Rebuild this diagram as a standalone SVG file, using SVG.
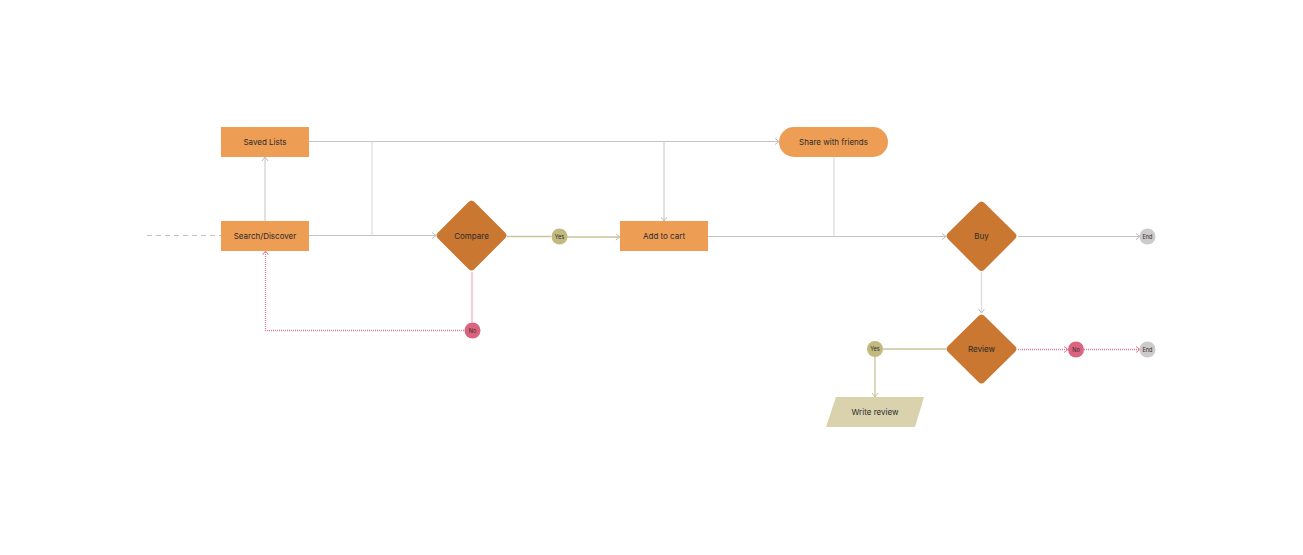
<svg xmlns="http://www.w3.org/2000/svg" width="1303" height="555" viewBox="0 0 1303 555">
<style>
.box{fill:#EE9D55}
.dia{fill:#C97731}
.lbl{font-family:Inter,"Noto Sans",sans-serif;font-size:8px;fill:#2b2b2b;text-anchor:middle;dominant-baseline:central}
.sm{font-family:Inter,"Noto Sans",sans-serif;font-size:5.5px;fill:#2b2b2b;text-anchor:middle;dominant-baseline:central}
.ln{fill:none;stroke:#C4C4C4;stroke-width:1}
.lt{fill:none;stroke:#DDDDDD;stroke-width:1.3}
.ol{fill:none;stroke:#C9C39A;stroke-width:1.3}
.pk{fill:none;stroke:#E07A93;stroke-width:1.3;stroke-dasharray:1 1}
.pks{fill:none;stroke:#EDB5C2;stroke-width:1.3}
</style>
<defs>
<marker id="ag" viewBox="0 0 8 8" refX="7" refY="4" markerWidth="8" markerHeight="8" markerUnits="userSpaceOnUse" orient="auto"><path d="M3,1 L7,4 L3,7" fill="none" stroke="#BDBDBD" stroke-width="1"/></marker>
<marker id="ao" viewBox="0 0 8 8" refX="7" refY="4" markerWidth="8" markerHeight="8" markerUnits="userSpaceOnUse" orient="auto"><path d="M3,1 L7,4 L3,7" fill="none" stroke="#C9C39A" stroke-width="1"/></marker>
<marker id="ap" viewBox="0 0 8 8" refX="7" refY="4" markerWidth="8" markerHeight="8" markerUnits="userSpaceOnUse" orient="auto"><path d="M3,1 L7,4 L3,7" fill="none" stroke="#E07A93" stroke-width="1"/></marker>
</defs>
<rect width="1303" height="555" fill="#FFFFFF"/>
<g id="connectors">
<line x1="147" y1="235.5" x2="221" y2="235.5" stroke="#C4C4C4" stroke-width="1" stroke-dasharray="5 4"/>
<line class="ln" x1="265" y1="221" x2="265" y2="157" marker-end="url(#ag)"/>
<line class="ln" x1="309" y1="141.5" x2="779" y2="141.5" marker-end="url(#ag)"/>
<line class="lt" x1="372" y1="141.5" x2="372" y2="235.5"/>
<line class="ln" x1="309" y1="235.5" x2="436" y2="235.5" marker-end="url(#ag)"/>
<line class="ln" x1="664" y1="141.5" x2="664" y2="221" marker-end="url(#ag)"/>
<line class="lt" x1="834" y1="157" x2="834" y2="236.5"/>
<line class="ol" x1="507" y1="236.5" x2="551" y2="236.5"/>
<line class="ol" x1="567" y1="237" x2="620" y2="237" marker-end="url(#ao)"/>
<line class="ln" x1="708" y1="236.5" x2="946" y2="236.5" marker-end="url(#ag)"/>
<line class="ln" x1="1018" y1="236.5" x2="1140" y2="236.5" marker-end="url(#ag)"/>
<line class="lt" x1="981.5" y1="272" x2="981.5" y2="313" marker-end="url(#ag)"/>
<line class="pks" x1="472" y1="272" x2="472" y2="322"/>
<polyline class="pk" points="464,330.5 265.5,330.5 265.5,251" marker-end="url(#ap)"/>
<line class="ol" x1="946" y1="349" x2="883" y2="349"/>
<line class="ol" x1="875" y1="357" x2="875" y2="397" marker-end="url(#ao)"/>
<line class="pk" x1="1018" y1="349.5" x2="1068" y2="349.5" marker-end="url(#ap)"/>
<line class="pk" x1="1084" y1="349.5" x2="1140" y2="349.5" marker-end="url(#ap)"/>
</g>
<g id="saved-lists"><rect class="box" x="221" y="127" width="88" height="30"/><text class="lbl" x="265" y="142">Saved Lists</text></g>
<g id="search-discover"><rect class="box" x="221" y="221" width="88" height="30"/><text class="lbl" x="265" y="236">Search/Discover</text></g>
<g id="compare"><path class="dia" d="M468.5,202 Q471.5,199 474.5,202 L505,232.5 Q508,235.5 505,238.5 L474.5,269 Q471.5,272 468.5,269 L438,238.5 Q435,235.5 438,232.5 Z"/><text class="lbl" x="471.5" y="235.5">Compare</text></g>
<g id="yes-1"><circle cx="559.5" cy="236.5" r="8" fill="#C2B97F"/><text class="sm" x="559.5" y="236.5">Yes</text></g>
<g id="no-1"><circle cx="472.5" cy="330.5" r="8" fill="#DA637E"/><text class="sm" x="472.5" y="330.5">No</text></g>
<g id="add-to-cart"><rect class="box" x="620" y="221" width="88" height="30"/><text class="lbl" x="664" y="236">Add to cart</text></g>
<g id="share-with-friends"><rect class="box" x="779" y="127" width="109" height="30" rx="15"/><text class="lbl" x="833.5" y="142">Share with friends</text></g>
<g id="buy"><path class="dia" d="M978.5,203 Q981.5,200 984.5,203 L1015,233 Q1018,236 1015,239 L984.5,269.5 Q981.5,272.5 978.5,269.5 L948,239 Q945,236 948,233 Z"/><text class="lbl" x="981.5" y="235.5">Buy</text></g>
<g id="end-1"><circle cx="1147.5" cy="236.5" r="8" fill="#CCCACA"/><text class="sm" x="1147.5" y="236.5">End</text></g>
<g id="review"><path class="dia" d="M978.5,316 Q981.5,313 984.5,316 L1015,346 Q1018,349 1015,352 L984.5,382 Q981.5,385 978.5,382 L948,352 Q945,349 948,346 Z"/><text class="lbl" x="981.5" y="348.5">Review</text></g>
<g id="yes-2"><circle cx="875" cy="349" r="8" fill="#C2B97F"/><text class="sm" x="875" y="349">Yes</text></g>
<g id="no-2"><circle cx="1076" cy="349.5" r="8" fill="#DA637E"/><text class="sm" x="1076" y="349.5">No</text></g>
<g id="end-2"><circle cx="1147.5" cy="349.5" r="8" fill="#CCCACA"/><text class="sm" x="1147.5" y="349.5">End</text></g>
<g id="write-review"><polygon points="836,397 924,397 915,427 826,427" fill="#D9D2AD"/><text class="lbl" x="875" y="412">Write review</text></g>
</svg>
